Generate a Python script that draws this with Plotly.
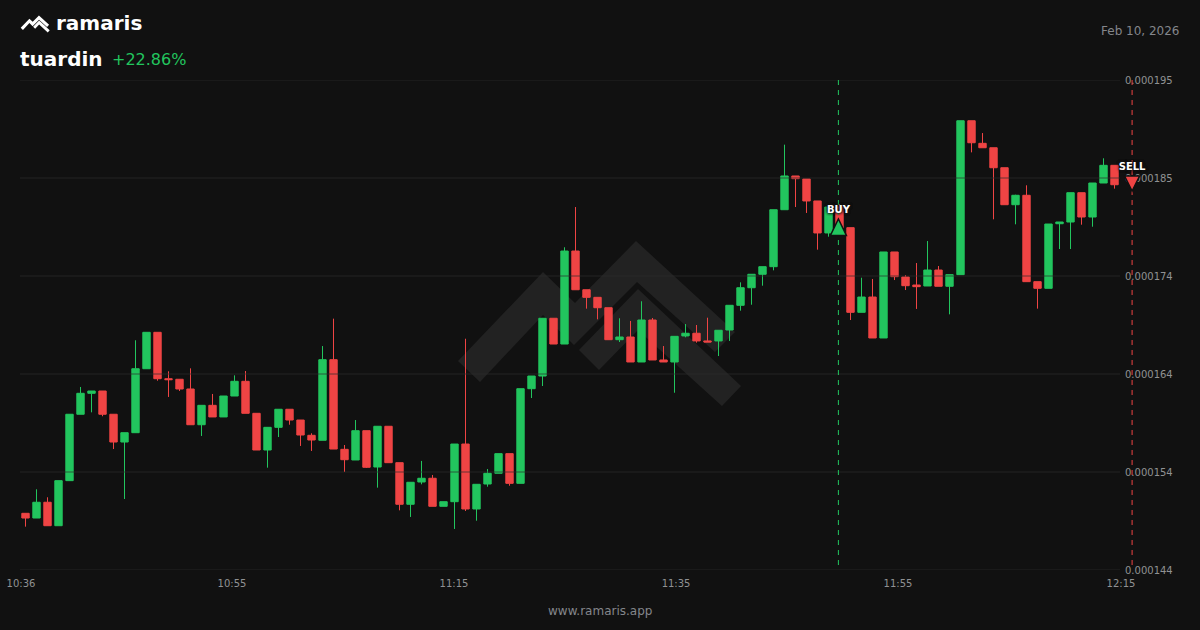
import plotly.graph_objects as go

# OHLC in millionths of a unit, one candle per minute
opens = [149.90,149.41,151.05,148.61,153.30,160.21,162.39,162.63,160.21,157.32,
         158.29,164.95,168.74,163.91,163.85,162.84,159.12,161.14,159.93,162.11,
         163.64,160.31,156.49,158.85,160.73,159.61,158.02,157.50,165.89,156.56,
         155.45,158.50,154.72,158.96,155.17,150.84,153.16,153.55,150.63,151.11,
         157.11,150.35,152.95,154.07,156.11,153.02,162.87,164.19,170.20,167.52,
         177.20,173.17,172.38,171.30,167.97,168.25,165.65,170.02,165.86,165.65,
         168.36,168.64,167.84,167.84,168.98,171.55,173.38,174.78,175.57,181.50,
         185.01,184.70,182.41,179.08,181.78,179.63,170.82,172.41,168.15,177.10,
         174.50,173.66,173.56,175.22,173.53,174.74,190.76,188.41,187.95,185.87,
         182.02,183.00,174.01,173.32,180.04,180.22,183.27,180.74,184.28,186.12]
closes = [149.41,151.05,148.61,153.30,160.21,162.39,162.63,160.21,157.32,158.29,
          164.95,168.74,163.91,163.81,162.84,159.12,161.14,159.93,162.11,163.64,
          160.31,156.49,158.85,160.73,159.61,158.05,157.53,165.89,156.59,155.48,
          158.50,154.69,158.96,155.17,150.84,153.13,153.55,150.63,151.11,157.11,
          150.35,152.92,154.07,156.11,153.02,162.87,164.19,170.20,167.52,177.20,
          173.17,172.38,171.30,167.97,168.25,165.65,170.02,165.86,165.65,168.32,
          168.64,167.84,167.73,168.95,171.55,173.38,174.78,175.57,181.50,185.01,
          184.73,182.41,179.08,181.78,179.60,170.82,172.41,168.15,177.10,174.53,
          173.59,173.49,175.22,173.53,174.74,190.76,188.47,187.95,185.87,182.02,
          183.00,174.01,173.32,180.01,180.22,183.27,180.74,184.28,186.12,184.10]
highs = [149.90,152.40,151.57,153.30,160.21,163.05,162.63,162.63,160.21,158.29,
         167.91,168.74,168.74,164.68,163.85,164.99,161.14,162.32,162.11,164.26,
         164.71,160.31,158.85,160.73,160.73,159.61,158.23,167.31,170.16,157.01,
         159.61,158.50,158.96,158.96,155.17,153.13,155.35,153.89,151.11,157.11,
         168.07,152.92,154.51,156.11,156.11,162.87,164.19,170.20,170.20,177.59,
         181.78,173.17,172.38,171.30,170.20,169.92,171.97,170.23,167.31,168.32,
         169.60,169.50,170.26,168.95,171.55,173.94,174.78,175.57,181.50,188.27,
         185.01,184.70,182.41,181.78,182.09,179.63,174.42,174.29,177.10,177.10,
         174.70,175.95,178.24,175.64,174.74,190.76,190.76,189.48,187.95,185.87,
         183.06,184.04,174.01,180.01,180.22,183.27,183.27,184.28,186.85,186.12]
lows = [148.51,149.41,148.61,148.61,153.30,160.21,160.41,160.00,156.59,151.39,
        158.29,164.95,163.70,162.01,162.63,159.12,157.95,159.93,159.93,162.11,
        160.31,156.49,154.65,157.84,159.12,156.91,156.39,157.50,156.59,154.20,
        155.45,154.62,152.57,155.17,150.21,149.52,152.92,150.63,150.63,148.27,
        150.14,149.13,152.67,154.07,152.77,153.02,161.90,163.15,167.52,167.52,
        173.17,171.20,170.09,167.97,167.73,165.65,165.65,165.86,165.65,162.45,
        168.22,167.66,167.73,166.27,167.84,170.99,171.61,173.59,175.19,181.50,
        181.78,181.16,177.34,178.69,179.60,170.02,170.82,168.15,168.15,174.18,
        173.14,171.17,173.56,173.53,170.61,174.74,187.47,187.95,180.50,182.02,
        179.98,174.01,171.20,173.32,177.41,177.41,179.94,179.73,184.28,183.69]
minutes = list(range(len(opens)))

y_tick_values = [195.0, 184.8, 174.6, 164.4, 154.2, 144.0]
y_tick_labels = ["0.000195", "0.000185", "0.000174", "0.000164", "0.000154", "0.000144"]
x_tick_values = [-0.41, 18.77, 38.95, 59.14, 79.32, 99.59]
x_tick_labels = ["10:36", "10:55", "11:15", "11:35", "11:55", "12:15"]

buy_minute, buy_price = 73.9, 179.65
sell_minute, sell_price = 100.6, 184.23

BG = "#111111"
GREEN = "#22c55e"
RED = "#ef4444"
GRID = "rgba(44,44,44,0.35)"
MUTED = "#909193"

# the x axis runs to 1170 px so the SELL marker, which lies past the last candle, stays on scale
def px(x): return (x - 20) / 1150
def py(y): return 1 - (y - 80) / 490
def path(points):
    return "M" + " L".join(f"{px(x):.5f},{py(y):.5f}" for x, y in points) + " Z"

LOGO = [
    [(458,361),(543,272),(575,303),(636,241),(735,332),(715,352),(637,282),(574,345),(543,315),(480,382)],
    [(579,350),(638,289),(741,386),(722,406),(638,330),(599,370)],
]
def small(points):
    return [(20.7 + (x - 458) * 0.1025, 15.5 + (y - 241) * 0.1025) for x, y in points]

shapes = []
for poly in LOGO:
    shapes.append(dict(type="path", path=path(poly), xref="paper", yref="paper",
                       fillcolor="#222222", line_width=0, layer="below"))
    shapes.append(dict(type="path", path=path(small(poly)), xref="paper", yref="paper",
                       fillcolor="#ffffff", line_width=0, layer="above"))

# trade triangles: glyph outlines in pixels, anchored to the trade on the data scales
shapes.append(dict(type="path", xref="x", yref="y", xsizemode="pixel", ysizemode="pixel",
                   xanchor=buy_minute, yanchor=buy_price, path="M-8,-8 L8,-8 L0,8.5 Z",
                   fillcolor=GREEN, line=dict(color=BG, width=1.5), layer="above"))
shapes.append(dict(type="path", xref="x", yref="y", xsizemode="pixel", ysizemode="pixel",
                   xanchor=sell_minute, yanchor=sell_price, path="M-7.5,7.5 L7.5,7.5 L0,-7.5 Z",
                   fillcolor=RED, line=dict(color=BG, width=1.5), layer="above"))

fig = go.Figure()
fig.add_trace(go.Candlestick(
    x=minutes, open=opens, high=highs, low=lows, close=closes,
    increasing=dict(line=dict(color=GREEN, width=1), fillcolor=GREEN),
    decreasing=dict(line=dict(color=RED, width=1), fillcolor=RED),
    whiskerwidth=0, hoverinfo="skip", showlegend=False,
))
for v in y_tick_values:
    fig.add_trace(go.Scatter(x=[-0.5, 99.5], y=[v, v], mode="lines",
                             line=dict(color=GRID, width=2), hoverinfo="skip", showlegend=False))

fig.add_trace(go.Scatter(x=[buy_minute, buy_minute], y=[195, 144], mode="lines", cliponaxis=False,
                         line=dict(color=GREEN, width=1, dash="5px,5px"), hoverinfo="skip", showlegend=False))
fig.add_trace(go.Scatter(x=[sell_minute, sell_minute], y=[195, 144], mode="lines", cliponaxis=False,
                         line=dict(color=RED, width=1, dash="5px,5px"), hoverinfo="skip", showlegend=False))
halo = "0 0 3px #111111, 0 0 3px #111111, 0 0 3px #111111"
fig.add_trace(go.Scatter(x=[buy_minute], y=[buy_price], mode="markers+text", cliponaxis=False,
                         marker=dict(size=18, color="rgba(0,0,0,0)"),
                         text=["BUY"], textposition="top center",
                         textfont=dict(family="DejaVu Sans", size=10, color="#ffffff", weight="bold", shadow=halo),
                         hoverinfo="skip", showlegend=False))
fig.add_trace(go.Scatter(x=[sell_minute], y=[sell_price], mode="markers+text", cliponaxis=False,
                         marker=dict(size=16, color="rgba(0,0,0,0)"),
                         text=["SELL"], textposition="top center",
                         textfont=dict(family="DejaVu Sans", size=10, color="#ffffff", weight="bold", shadow=halo),
                         hoverinfo="skip", showlegend=False))

def label(x, y, text, size, color, weight="normal", anchor="left"):
    return dict(x=px(x), y=py(y), xref="paper", yref="paper", text=text, showarrow=False,
                xanchor=anchor, yanchor="middle", borderpad=0, borderwidth=0,
                font=dict(family="DejaVu Sans", size=size, color=color, weight=weight))

annotations = [
    label(56, 23, "ramaris", 20, "#ffffff", "bold"),
    label(20, 59, "tuardin", 20, "#ffffff", "bold"),
    label(112, 60, "+22.86%", 16, GREEN),
    label(1180, 31, "Feb 10, 2026", 12, "#84868b", anchor="right"),
    label(600, 611, "www.ramaris.app", 12, "#84868b", anchor="center"),
]

fig.update_layout(
    width=1200, height=630, autosize=False,
    margin=dict(l=20, r=30, t=80, b=60, pad=0, autoexpand=False),
    paper_bgcolor=BG, plot_bgcolor=BG,
    showlegend=False, shapes=shapes, annotations=annotations,
    font=dict(family="DejaVu Sans", size=10, color=MUTED),
    boxgap=0.33, boxgroupgap=0,
    xaxis=dict(range=[-0.5, 104.045], tickmode="array", tickvals=x_tick_values, ticktext=x_tick_labels,
               showgrid=False, zeroline=False, showline=False, rangeslider=dict(visible=False),
               ticks="outside", ticklen=4, tickcolor="rgba(0,0,0,0)",
               tickfont=dict(size=10, color=MUTED)),
    yaxis=dict(range=[144, 195], side="right", anchor="free", position=1100 / 1150,
               tickmode="array", tickvals=y_tick_values, ticktext=y_tick_labels,
               showgrid=False, zeroline=False, showline=False, layer="below traces",
               ticks="outside", ticklen=2, tickcolor="rgba(0,0,0,0)",
               tickfont=dict(size=10, color=MUTED)),
)
fig.write_html("out.html", config=dict(displayModeBar=False),
               post_script="document.documentElement.style.background='#111111';document.body.style.margin='0';")
